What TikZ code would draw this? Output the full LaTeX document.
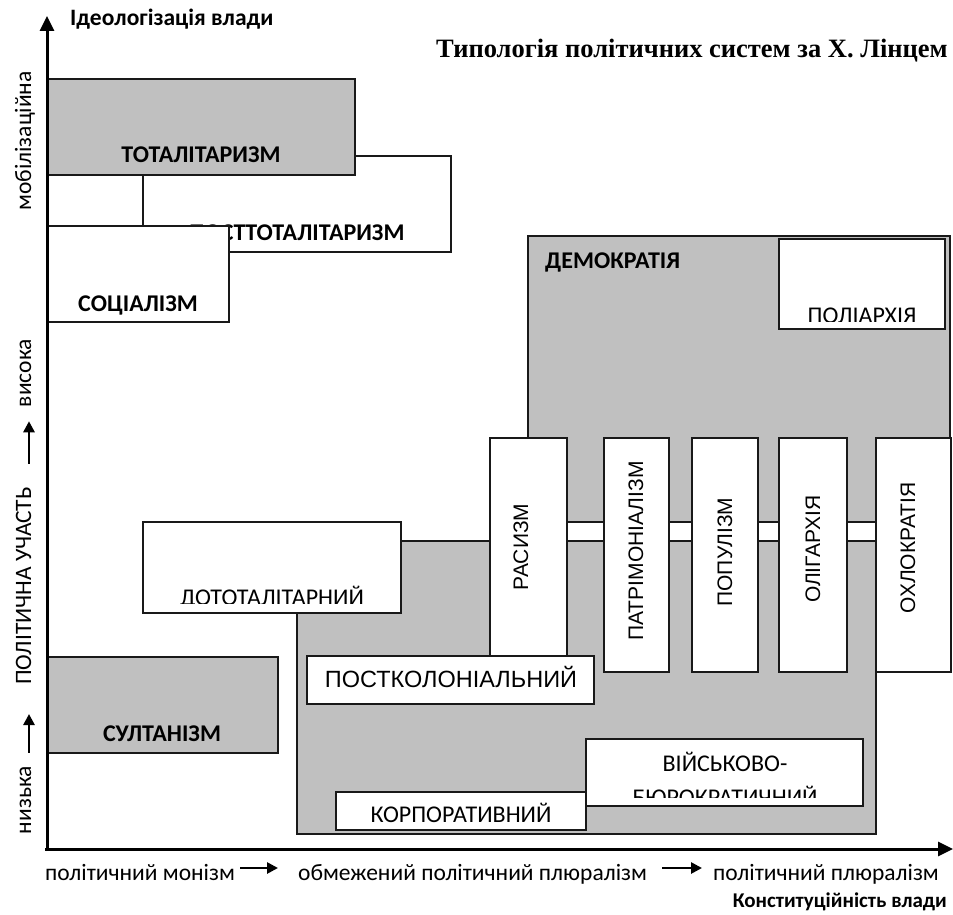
\documentclass[tikz,border=0pt]{standalone}
\usepackage{fontspec}
\setmainfont{Carlito}
\newfontfamily\arialfont{Liberation Sans}
\newfontfamily\timesfont{Liberation Serif}
\usetikzlibrary{arrows.meta}
\definecolor{boxfill}{RGB}{192,192,192}
\definecolor{boxline}{RGB}{25,25,25}

\tikzset{
  graybox/.style={draw=boxline, line width=1.6pt, fill=boxfill},
  whitebox/.style={draw=boxline, line width=1.6pt, fill=white},
  axis/.style={line width=3pt, -{Triangle[length=15pt,width=14pt]}},
  smallarrow/.style={line width=2.6pt, -{Triangle[length=11pt,width=11pt]}},
  boldlbl/.style={inner sep=0pt, anchor=base, font=\fontsize{24}{28}\selectfont\bfseries},
  lbl/.style={inner sep=0pt, anchor=base, font=\fontsize{24}{28}\selectfont},
  axlbl/.style={inner sep=0pt, anchor=base, font=\fontsize{23.5}{28}\selectfont},
  vlbl/.style={inner sep=0pt, anchor=base, rotate=90, font=\arialfont\fontsize{21}{25}\selectfont},
}

\begin{document}
\begin{tikzpicture}[x=1pt, y=-1pt]
    \useasboundingbox (0,0) rectangle (953,915);

    % Upper left group
    \draw[whitebox] (143,156) rectangle (451,252);
    \node[boldlbl] (posttot) at (297,240) {ПОСТТОТАЛІТАРИЗМ};
    \draw[graybox] (47,79) rectangle (355,175);
    \node[boldlbl] (tot) at (201,163) {ТОТАЛІТАРИЗМ};
    \draw[whitebox] (47,226) rectangle (229,322);
    \node[boldlbl] (soc) at (138,311) {СОЦІАЛІЗМ};

    % Democracy block
    \draw[graybox] (528,236) rectangle (950,522);
    \node[boldlbl, anchor=base west] (dem) at (545,268) {ДЕМОКРАТІЯ};
    \draw[whitebox] (779,239) rectangle (945,329);
    \begin{scope}
        \clip (779,239) rectangle (945,321);
        \node[lbl] (poly) at (862,323) {ПОЛІАРХІЯ};
    \end{scope}

    % Lower block
    \draw[graybox] (297,541) rectangle (876,834);
    \draw[whitebox] (143,522) rectangle (401,613);
    \begin{scope}
        \clip (143,522) rectangle (401,603);
        \node[lbl] (dotot) at (272,605) {ДОТОТАЛІТАРНИЙ};
    \end{scope}

    % Vertical boxes
    \foreach \xa/\xb/\yb/\bx/\by/\nm/\txt in {490/567/656/528/547/rac/РАСИЗМ,
        604/669/672/643/551/patr/ПАТРІМОНІАЛІЗМ, 692/758/672/732/552/pop/ПОПУЛІЗМ,
        779/847/672/820/549/olig/ОЛІГАРХІЯ, 876/951/672/915/548/ochl/ОХЛОКРАТІЯ} {
        \draw[whitebox] (\xa,438) rectangle (\xb,\yb);
        \node[vlbl] (\nm) at (\bx,\by) {\txt};
    }

    \draw[whitebox] (307,656) rectangle (594,704);
    \node[inner sep=0pt, anchor=base, font=\arialfont\fontsize{23.5}{28}\selectfont] (postcol) at (451,687) {ПОСТКОЛОНІАЛЬНИЙ};

    \draw[whitebox] (336,792) rectangle (586,830);
    \begin{scope}
        \clip (336,792) rectangle (586,822);
        \node[lbl] (corp) at (461,822) {КОРПОРАТИВНИЙ};
    \end{scope}
    \draw[whitebox] (586,739) rectangle (863,806);
    \begin{scope}
        \clip (586,739) rectangle (863,797);
        \node[lbl] (mil) at (725,771) {ВІЙСЬКОВО-};
        \node[lbl] (bur) at (725,805) {БЮРОКРАТИЧНИЙ};
    \end{scope}

    % Sultanism
    \draw[graybox] (47,657) rectangle (278,753);
    \node[boldlbl] (sult) at (162,741) {СУЛТАНІЗМ};

    % Axes
    \draw[axis] (47,851) -- (47,16);
    \draw[axis] (45,849) -- (953,849);
    \node[boldlbl, font=\fontsize{23.5}{28}\selectfont\bfseries, anchor=base west] (ideol) at (70,26) {Ідеологізація влади};
    \node[boldlbl, font=\fontsize{21}{25}\selectfont\bfseries, anchor=base east] (const) at (947,907) {Конституційність влади};
    \node[inner sep=0pt, anchor=base east, font=\timesfont\fontsize{26.5}{30}\selectfont\bfseries] (title) at (948,58) {Типологія політичних систем за Х. Лінцем};

    % Labels along the axes
    \node[axlbl, rotate=90] (mob) at (31,141) {мобілізаційна};
    \node[axlbl, rotate=90] (vys) at (31,373) {висока};
    \node[axlbl, rotate=90] (uchast) at (31,586) {ПОЛІТИЧНА УЧАСТЬ};
    \node[axlbl, rotate=90] (nyz) at (31,800) {низька};
    \coordinate (ax) at (29,0);
    \draw[smallarrow, shorten <=13pt, shorten >=29pt] (nyz.east -| ax) -- (uchast.west -| ax);
    \draw[smallarrow, shorten <=23pt, shorten >=14pt] (uchast.east -| ax) -- (vys.west -| ax);

    \node[axlbl, anchor=base west] (mon) at (45,880) {політичний монізм};
    \node[axlbl, anchor=base west] (lim) at (298,880) {обмежений політичний плюралізм};
    \node[axlbl, anchor=base west] (plur) at (713,880) {політичний плюралізм};
    \coordinate (ay) at (0,868);
    \draw[smallarrow, shorten <=5pt, shorten >=20pt] (mon.east |- ay) -- (lim.west |- ay);
    \draw[smallarrow, shorten <=15pt, shorten >=11pt] (lim.east |- ay) -- (plur.west |- ay);

\end{tikzpicture}
\end{document}
